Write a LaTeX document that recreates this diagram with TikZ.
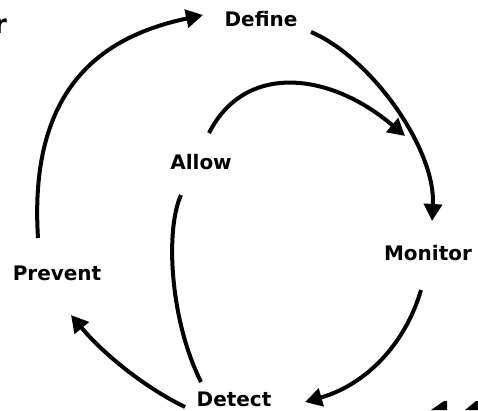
\documentclass[tikz,border=0pt]{standalone}
\usepackage{fontspec}
\setmainfont{DejaVu Sans}
\usetikzlibrary{arrows.meta,calc}
\begin{document}
\begin{tikzpicture}[x=1pt,y=-1pt,
  label/.style={font=\fontsize{20}{24}\selectfont\bfseries, anchor=base, inner sep=0pt},
  flow/.style={line width=4pt, -{Triangle[length=17pt,width=18pt]}},
  link/.style={line width=4pt}]
  \useasboundingbox (0,0) rectangle (478,410);

  % stage labels (positions are baseline centres)
  \node[label] (Define)  at (261,26)  {Define};
  \node[label] (Allow)   at (201,169) {Allow};
  \node[label] (Prevent) at (57,280)  {Prevent};
  \node[label] (Monitor) at (428,260) {Monitor};
  \node[label] (Detect)  at (234,406) {Detect};

  % outer cycle
  \draw[flow] ($(Prevent.base)+(-19,-42)$)
    .. controls (28,80) and (110,35) .. ($(Define.base)+(-58,-11)$);
  \draw[flow] ($(Define.base)+(50,6)$)
    .. controls (372,58) and (436,150) .. ($(Monitor.base)+(4,-39)$);
  \draw[flow] ($(Monitor.base)+(-7,30)$)
    .. controls (405,345) and (365,385) .. ($(Detect.base)+(71,-4)$);
  \draw[flow] ($(Detect.base)+(-49,1)$)
    .. controls (140,385) and (100,350) .. ($(Prevent.base)+(14,35)$);

  % inner path through Allow
  \draw[link] ($(Detect.base)+(-33,-24)$)
    .. controls (170,320) and (165,230) .. ($(Allow.base)+(-20,26)$);
  \draw[flow] ($(Allow.base)+(8,-36)$)
    .. controls (245,62) and (330,72) .. ($(Monitor.base)+(-23,-124)$);

  % cut-off lettering at the edges
  \node[font=\fontsize{26}{30}\selectfont\bfseries, anchor=base west, inner sep=0pt] (edgeR) at (-6,33) {r};
  \fill (431,410) -- (444,401) -- (447,401) -- (447,410) -- cycle;
  \fill (465,410) -- (476,401) -- (478,401) -- (478,410) -- cycle;
\end{tikzpicture}
\end{document}
